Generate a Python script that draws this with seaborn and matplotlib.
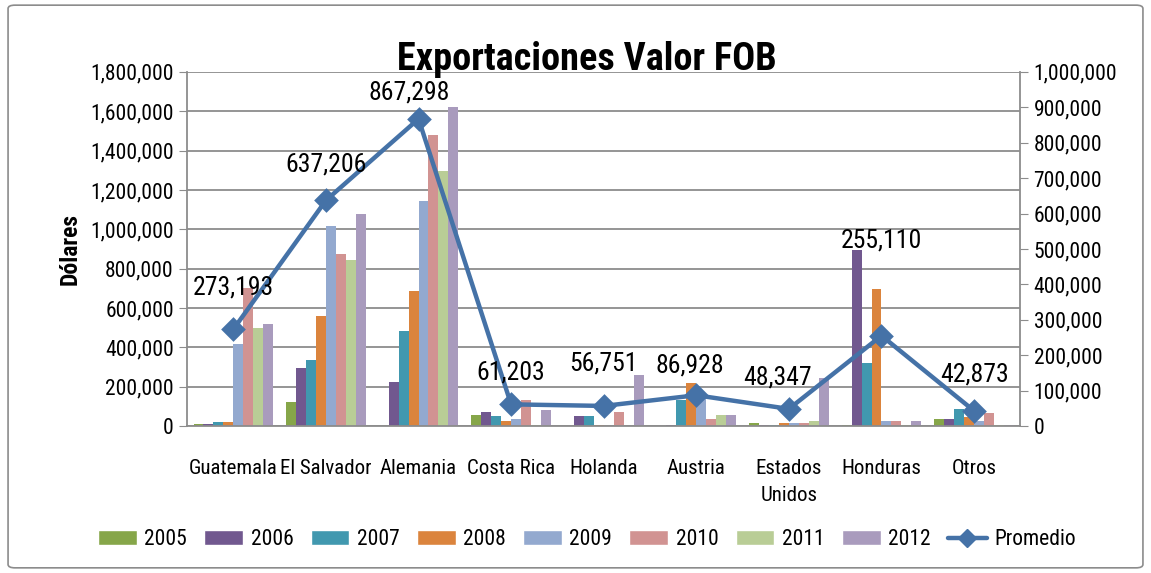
import matplotlib
matplotlib.use("Agg")
import matplotlib.pyplot as plt
import matplotlib.ticker as mticker
from matplotlib.patches import Patch, FancyBboxPatch
from matplotlib.lines import Line2D
import seaborn as sns
import pandas as pd

# categories and series
paises = ["Guatemala", "El Salvador", "Alemania", "Costa Rica", "Holanda",
          "Austria", "Estados\nUnidos", "Honduras", "Otros"]
anios = ["2005", "2006", "2007", "2008", "2009", "2010", "2011", "2012"]

v2005 = [10000, 122000, 2000, 58000, 2000, 2000, 16000, 5000, 34000]
v2006 = [10000, 294000, 226000, 71000, 50000, 5000, 5000, 893000, 34000]
v2007 = [20000, 335000, 483000, 50000, 50000, 131000, 5000, 319000, 85000]
v2008 = [20000, 558000, 687000, 28000, 5000, 221000, 16000, 695000, 46000]
v2009 = [416000, 1015000, 1145000, 37000, 2000, 150000, 16000, 24000, 24000]
v2010 = [700000, 873000, 1477000, 133000, 69000, 36000, 16000, 24000, 64000]
v2011 = [497000, 843000, 1298000, 3000, 2000, 57000, 26000, 3000, 3000]
v2012 = [517000, 1076000, 1620000, 80000, 260000, 57000, 243000, 24000, 3000]

promedio = [273193, 637206, 867298, 61203, 56751, 86928, 48347, 255110, 42873]

colores = ["#86A649", "#71588F", "#4198AF", "#DB843D",
           "#93A9CF", "#D19392", "#B9CD96", "#A99BBD"]
color_linea = "#4572A7"

# where each average label sits relative to its marker (pixels)
label_dx = [0, 0, -9, 0, 0, -6, -11, 0, 0]
label_dy = [42, 36, 26, 32, 42, 30, 31, 95, 36]

series = [v2005, v2006, v2007, v2008, v2009, v2010, v2011, v2012]
filas = []
for anio, vals in zip(anios, series):
    for p, v in zip(paises, vals):
        filas.append({"pais": p, "anio": anio, "valor": v})
df = pd.DataFrame(filas)

sns.set_style("white")
plt.rcParams["font.family"] = ["Roboto Condensed", "DejaVu Sans"]
plt.rcParams["font.stretch"] = "condensed"
plt.rcParams["text.color"] = "black"
plt.rcParams["axes.labelcolor"] = "black"

fig = plt.figure(figsize=(11.51, 5.73), dpi=100)
ax = fig.add_axes([0.1625, 0.2565, 0.724, 0.618])

sns.barplot(data=df, x="pais", y="valor", hue="anio", order=paises,
            hue_order=anios, palette=colores, width=0.86, ax=ax,
            legend=False, saturation=1, linewidth=0)

ax.set_ylim(0, 1800000)
ax.set_xlim(-0.5, len(paises) - 0.5)
ax.yaxis.set_major_locator(mticker.MultipleLocator(200000))
ax.yaxis.set_major_formatter(mticker.StrMethodFormatter("{x:,.0f}"))
ax.grid(axis="y", color="#8c8c8c", linewidth=1.3)
ax.set_axisbelow(True)
ax.set_xlabel("")
ax.set_ylabel("Dólares", fontsize=17, fontweight="bold", labelpad=6)
ax.tick_params(axis="y", labelsize=15.5, length=6, color="#8c8c8c",
               labelcolor="black", direction="out")
ax.tick_params(axis="x", which="major", labelsize=15, length=0, pad=24,
               labelcolor="black")
for t in ax.get_xticklabels():
    t.set_linespacing(1.5)
ax.set_xticks([i - 0.5 for i in range(len(paises) + 1)], minor=True)
ax.tick_params(axis="x", which="minor", length=7, color="#8c8c8c")
for s in ["top", "right"]:
    ax.spines[s].set_visible(False)
for s in ["left", "bottom"]:
    ax.spines[s].set_color("#8c8c8c")
    ax.spines[s].set_linewidth(1.3)

ax2 = ax.twinx()
sns.pointplot(x=list(range(len(paises))), y=promedio, native_scale=True,
              ax=ax2, color=color_linea, markers="D", errorbar=None,
              linewidth=3.2, markersize=10)
ax2.set_xlim(-0.5, len(paises) - 0.5)
ax2.set_ylim(0, 1000000)
ax2.yaxis.set_major_locator(mticker.MultipleLocator(100000))
ax2.yaxis.set_major_formatter(mticker.StrMethodFormatter("{x:,.0f}"))
ax2.tick_params(axis="y", labelsize=15.5, length=6, color="#8c8c8c",
                labelcolor="black", direction="out")
for s in ["top", "left", "bottom"]:
    ax2.spines[s].set_visible(False)
ax2.spines["right"].set_color("#8c8c8c")
ax2.spines["right"].set_linewidth(1.3)

for i, v in enumerate(promedio):
    ax2.annotate(f"{v:,.0f}", (i, v), xytext=(label_dx[i] * 0.72, label_dy[i] * 0.72),
                 textcoords="offset points", ha="center", va="center", fontsize=18.5)

fig.text(0.51, 1 - 70 / 573, "Exportaciones Valor FOB", ha="center", va="baseline",
         fontsize=27.5, fontweight="bold")

handles = [Patch(facecolor=c, label=a) for c, a in zip(colores, anios)]
handles.append(Line2D([0], [0], color=color_linea, lw=3.2, marker="D",
                      markersize=9, label="Promedio"))
fig.legend(handles=handles, loc="center", bbox_to_anchor=(0.51, 0.0576),
           ncol=9, frameon=False, fontsize=15.5, handlelength=1.8,
           handleheight=0.7, columnspacing=0.8, handletextpad=0.35)

borde = FancyBboxPatch((0.007, 0.009), 0.986, 0.982, boxstyle="round,pad=0,rounding_size=0.006",
                       transform=fig.transFigure, fill=False, edgecolor="#8c8c8c", lw=1.2)
fig.patches.append(borde)

fig.savefig("out.png", dpi=100)
